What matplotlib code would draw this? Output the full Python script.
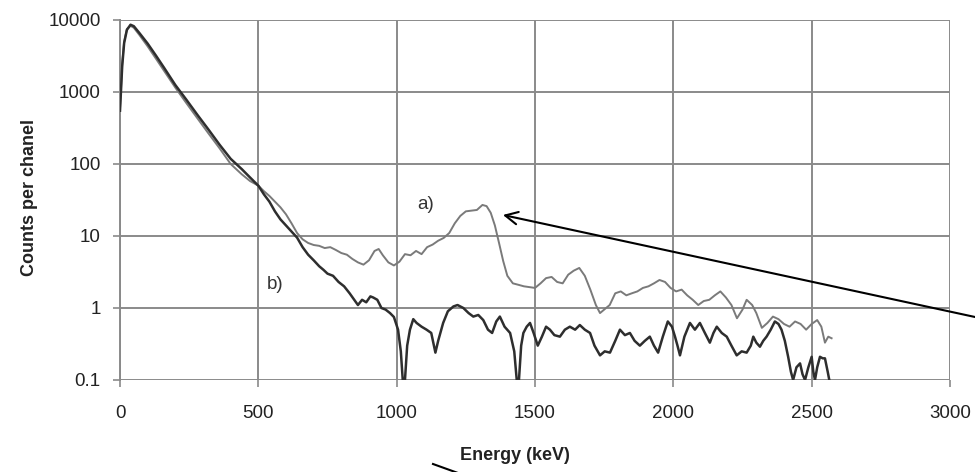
import matplotlib
matplotlib.use("Agg")
import matplotlib.pyplot as plt
from matplotlib.lines import Line2D

plt.rcParams['font.family'] = ['Liberation Sans', 'DejaVu Sans']

# ---- data ----
energy_a = [0, 8, 15, 25, 38, 50, 70, 100, 130, 160, 200, 240, 280, 320, 360, 400, 440, 470,
            500, 520, 540, 560, 580, 600, 620, 640, 660, 680, 700, 720, 740, 760, 780, 800,
            820, 840, 860, 880, 900, 920, 935, 950, 970, 990, 1010, 1030, 1050, 1070, 1090,
            1110, 1130, 1150, 1170, 1190, 1210, 1230, 1250, 1270, 1290, 1310, 1325, 1340,
            1355, 1370, 1385, 1400, 1420, 1440, 1460, 1480, 1500, 1520, 1540, 1560, 1580,
            1600, 1620, 1640, 1660, 1680, 1700, 1720, 1735, 1750, 1770, 1790, 1810, 1830,
            1850, 1870, 1890, 1910, 1930, 1950, 1970, 1990, 2010, 2030, 2050, 2070, 2090,
            2110, 2130, 2150, 2170, 2190, 2210, 2230, 2250, 2265, 2285, 2300, 2320, 2340,
            2360, 2380, 2400, 2420, 2440, 2460, 2480, 2500, 2520, 2535, 2548, 2560, 2572]
counts_a = [600, 2500, 5000, 7500, 8300, 7800, 6200, 4300, 2900, 1950, 1150, 700, 430, 265,
            165, 100, 72, 58, 50, 42, 36, 30, 25, 20, 15, 11, 9, 8, 7.5, 7.3, 6.8, 7.0, 6.4,
            5.8, 5.5, 4.8, 4.3, 4.0, 4.6, 6.2, 6.6, 5.4, 4.3, 3.9, 4.4, 5.6, 5.4, 6.2, 5.6,
            7.0, 7.6, 8.6, 9.4, 11, 15, 19, 22, 22.5, 23, 27, 26, 21, 14, 8, 4.5, 2.8, 2.2,
            2.1, 2.0, 1.95, 1.9, 2.2, 2.6, 2.7, 2.3, 2.2, 2.9, 3.3, 3.6, 2.8, 1.8, 1.1, 0.85,
            0.95, 1.1, 1.6, 1.7, 1.5, 1.6, 1.7, 1.9, 2.0, 2.2, 2.45, 2.3, 1.9, 1.7, 1.8, 1.5,
            1.3, 1.1, 1.25, 1.3, 1.5, 1.7, 1.4, 1.1, 0.72, 0.95, 1.3, 1.1, 0.85, 0.53, 0.62,
            0.76, 0.7, 0.6, 0.55, 0.65, 0.6, 0.5, 0.6, 0.68, 0.55, 0.33, 0.4, 0.38]

energy_b = [0, 8, 15, 25, 38, 50, 70, 100, 130, 160, 200, 240, 280, 320, 360, 400, 440, 470,
            500, 520, 540, 560, 580, 600, 620, 640, 660, 680, 700, 720, 735, 750, 770, 790,
            810, 830, 850, 860, 875, 890, 905, 915, 930, 945, 960, 976, 990, 1005, 1015,
            1022, 1030, 1038, 1048, 1060, 1072, 1090, 1108, 1125, 1140, 1150, 1168, 1185,
            1205, 1220, 1241, 1260, 1277, 1295, 1313, 1330, 1345, 1360, 1373, 1390, 1410,
            1425, 1434, 1442, 1450, 1458, 1470, 1482, 1495, 1510, 1525, 1540, 1554, 1570,
            1590, 1608, 1626, 1645, 1662, 1680, 1699, 1715, 1735, 1752, 1771, 1790, 1807,
            1825, 1843, 1860, 1879, 1897, 1915, 1930, 1945, 1962, 1980, 1995, 2006, 2015,
            2024, 2040, 2060, 2078, 2096, 2114, 2132, 2145, 2157, 2175, 2193, 2210, 2229,
            2247, 2265, 2280, 2289, 2300, 2313, 2325, 2337, 2352, 2367, 2380, 2391, 2403,
            2415, 2425, 2433, 2445, 2458, 2467, 2476, 2488, 2500, 2506, 2512, 2520, 2530,
            2540, 2548, 2558, 2566]
counts_b = [550, 2300, 4800, 7300, 8600, 8200, 6600, 4700, 3200, 2150, 1250, 780, 480, 300,
            185, 118, 85, 65, 50, 38, 30, 22, 17, 14, 11.5, 9.5, 7, 5.5, 4.6, 3.8, 3.4, 3.0,
            2.8, 2.3, 2.0, 1.6, 1.25, 1.1, 1.3, 1.2, 1.45, 1.4, 1.3, 1.0, 0.95, 0.85, 0.75,
            0.5, 0.25, 0.1, 0.1, 0.3, 0.5, 0.7, 0.62, 0.55, 0.5, 0.45, 0.24, 0.35, 0.62, 0.9,
            1.05, 1.1, 1.0, 0.85, 0.76, 0.8, 0.68, 0.5, 0.45, 0.65, 0.76, 0.55, 0.45, 0.25,
            0.1, 0.1, 0.3, 0.45, 0.55, 0.62, 0.45, 0.3, 0.4, 0.55, 0.5, 0.42, 0.4, 0.5, 0.55,
            0.5, 0.58, 0.5, 0.45, 0.3, 0.22, 0.25, 0.24, 0.35, 0.5, 0.42, 0.45, 0.35, 0.3,
            0.35, 0.4, 0.3, 0.24, 0.4, 0.65, 0.55, 0.4, 0.3, 0.22, 0.4, 0.62, 0.5, 0.62, 0.45,
            0.33, 0.45, 0.55, 0.45, 0.4, 0.3, 0.22, 0.25, 0.24, 0.3, 0.4, 0.33, 0.29, 0.35,
            0.4, 0.5, 0.65, 0.6, 0.5, 0.35, 0.21, 0.13, 0.1, 0.15, 0.17, 0.12, 0.1, 0.15, 0.21,
            0.13, 0.1, 0.15, 0.21, 0.2, 0.2, 0.13, 0.09]

x_ticks = [0, 500, 1000, 1500, 2000, 2500, 3000]
y_ticks = [0.1, 1, 10, 100, 1000, 10000]
y_tick_labels = ['0.1', '1', '10', '100', '1000', '10000']

# ---- figure ----
W, H = 975, 472
fig = plt.figure(figsize=(W / 100, H / 100), dpi=100)
ax = fig.add_axes([120 / W, 1 - 380 / H, 830 / W, 360 / H])

grid_c = '#8a8a8a'
ax.set_yscale('log')
ax.set_xlim(0, 3000)
ax.set_ylim(0.1, 10000)
ax.set_xticks(x_ticks)
ax.set_xticklabels([str(t) for t in x_ticks])
ax.set_yticks(y_ticks)
ax.set_yticklabels(y_tick_labels)
ax.minorticks_off()
ax.grid(True, color=grid_c, linewidth=1.4)
for s in ['top', 'right', 'bottom']:
    ax.spines[s].set_visible(False)
ax.spines['left'].set_color(grid_c)
ax.spines['left'].set_linewidth(1.4)
ax.tick_params(axis='both', colors=grid_c, labelcolor='#222222', labelsize=13.5, length=5, width=1.2)
ax.tick_params(axis='x', pad=13)
ax.tick_params(axis='y', pad=9)

ax.plot(energy_a, counts_a, color='#7a7a7a', linewidth=1.4, zorder=3)
ax.plot(energy_b, counts_b, color='#2e2e2e', linewidth=1.8, zorder=4)

ax.text(1103, 27, 'a)', fontsize=13.5, color='#333333', ha='center', va='center')
ax.text(560, 2.1, 'b)', fontsize=13.5, color='#333333', ha='center', va='center')

ax.annotate('', xy=(1384, 19.6), xycoords='data',
            xytext=(1.03, 0.315), textcoords='figure fraction',
            arrowprops=dict(arrowstyle='->,head_length=0.9,head_width=0.45', color='black', lw=1.5,
                            shrinkA=0, shrinkB=0),
            annotation_clip=False)

fig.text(30 / W, 1 - 197 / H, 'Counts per chanel', rotation=90, fontsize=13,
         fontweight='bold', color='#222222', ha='center', va='center')
fig.text(515 / W, 1 - 456 / H, 'Energy (keV)', fontsize=13, fontweight='bold',
         color='#222222', ha='center', va='center')

fig.add_artist(Line2D([433 / W, 458 / W], [1 - 464 / H, 1 - 473 / H],
                      transform=fig.transFigure, color='black', linewidth=1.5))

fig.savefig('out.png', dpi=100)
